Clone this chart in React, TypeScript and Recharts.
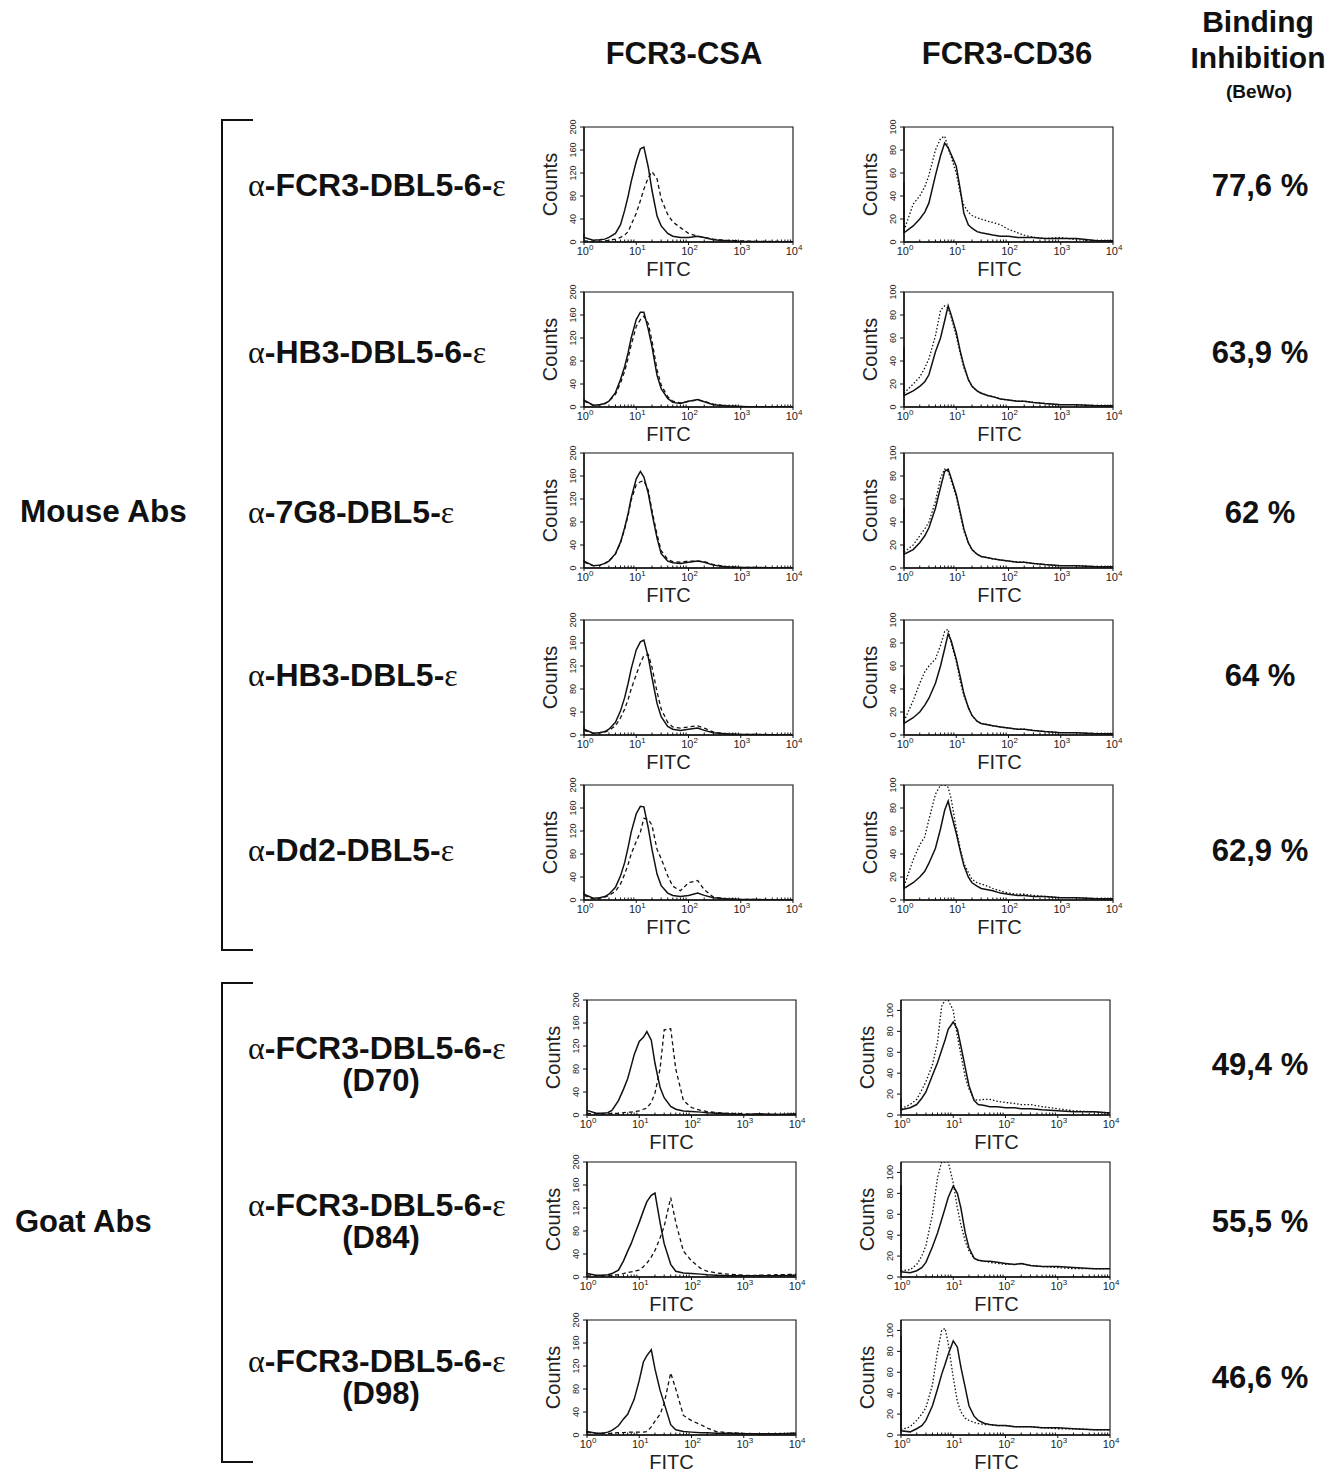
import { Label, Line, LineChart, ReferenceArea, XAxis, YAxis } from 'recharts'

// FITC channels (log scale) shared by every histogram
const X_BINS = [1, 1.5, 2, 2.5, 3, 4, 5, 6, 7, 8, 10, 12, 14, 17, 20, 25, 30, 40, 50, 70, 100, 150, 200, 300, 500, 1000, 2000, 5000, 10000]

const X_TICKS = [1, 2, 3, 4, 5, 6, 7, 8, 9, 10, 20, 30, 40, 50, 60, 70, 80, 90, 100, 200, 300, 400, 500, 600, 700, 800, 900, 1000, 2000, 3000, 4000, 5000, 6000, 7000, 8000, 9000, 10000]
const X_MAJOR = [1, 10, 100, 1000, 10000]
const CSA_TICKS = [0, 40, 80, 120, 160, 200]
const CD36_TICKS = [0, 20, 40, 60, 80, 100]

const HEADERS = ['FCR3-CSA', 'FCR3-CD36']
const GROUPS = ['Mouse Abs', 'Goat Abs']

// ---- FCR3-CSA histograms (counts, 0-200) ----
const CSA1_SOLID = [8, 3, 4, 5, 8, 15, 30, 55, 80, 105, 140, 162, 165, 130, 90, 45, 28, 15, 10, 8, 8, 10, 8, 4, 2, 1, 1, 0, 0]
const CSA1_DASHED = [2, 1, 1, 2, 3, 5, 8, 12, 18, 30, 50, 72, 92, 112, 122, 110, 75, 48, 35, 25, 15, 10, 8, 5, 3, 2, 1, 1, 0]
const CSA2_SOLID = [12, 3, 4, 6, 10, 25, 48, 70, 95, 120, 152, 165, 165, 135, 105, 55, 32, 15, 8, 6, 10, 13, 9, 4, 2, 1, 0, 0, 0]
const CSA2_DASHED = [10, 3, 4, 6, 10, 22, 42, 62, 85, 108, 140, 152, 158, 145, 115, 65, 38, 18, 10, 7, 10, 12, 10, 5, 2, 1, 0, 0, 0]
const CSA3_SOLID = [12, 4, 5, 8, 12, 25, 45, 70, 95, 122, 155, 168, 158, 130, 95, 52, 25, 12, 9, 8, 10, 12, 10, 5, 2, 1, 1, 0, 0]
const CSA3_DASHED = [10, 4, 5, 8, 12, 24, 44, 68, 92, 118, 145, 150, 152, 135, 100, 58, 30, 15, 11, 10, 12, 12, 11, 6, 3, 1, 1, 0, 0]
const CSA4_SOLID = [10, 3, 4, 6, 10, 22, 42, 65, 90, 115, 148, 162, 165, 135, 100, 55, 32, 15, 10, 8, 10, 12, 8, 4, 2, 1, 1, 0, 0]
const CSA4_DASHED = [8, 3, 4, 5, 8, 16, 30, 45, 62, 80, 105, 125, 138, 140, 118, 75, 45, 22, 14, 12, 14, 16, 12, 5, 2, 1, 1, 0, 0]
const CSA5_SOLID = [10, 3, 4, 6, 10, 22, 42, 65, 92, 118, 150, 163, 162, 125, 88, 45, 25, 12, 8, 6, 8, 12, 8, 4, 2, 1, 1, 0, 0]
const CSA5_DASHED = [8, 2, 3, 5, 8, 15, 28, 45, 62, 80, 102, 118, 142, 140, 130, 88, 72, 42, 24, 16, 30, 34, 18, 5, 2, 1, 1, 0, 0]
const CSA6_SOLID = [8, 3, 3, 4, 8, 25, 45, 63, 85, 105, 128, 135, 145, 130, 90, 48, 30, 15, 10, 7, 6, 5, 4, 3, 2, 1, 2, 1, 2]
const CSA6_DASHED = [3, 2, 2, 2, 3, 3, 4, 5, 5, 6, 7, 10, 12, 22, 38, 80, 148, 150, 80, 25, 13, 8, 6, 4, 3, 2, 1, 1, 1]
const CSA7_SOLID = [6, 3, 3, 4, 6, 12, 28, 45, 58, 72, 95, 115, 131, 142, 146, 95, 58, 22, 10, 7, 6, 5, 4, 3, 2, 2, 2, 2, 3]
const CSA7_DASHED = [2, 2, 2, 2, 3, 4, 6, 8, 9, 10, 12, 18, 24, 35, 46, 68, 88, 138, 95, 45, 28, 15, 10, 7, 5, 3, 3, 4, 5]
const CSA8_SOLID = [6, 3, 3, 5, 8, 16, 28, 36, 50, 62, 95, 127, 138, 148, 115, 78, 55, 18, 9, 6, 5, 4, 4, 3, 3, 2, 2, 2, 3]
const CSA8_DASHED = [4, 3, 3, 3, 3, 4, 4, 5, 5, 5, 5, 5, 6, 14, 24, 36, 55, 108, 80, 34, 25, 18, 12, 6, 4, 3, 2, 2, 3]

// ---- FCR3-CD36 histograms (counts, 0-100) ----
const CD1_SOLID = [8, 14, 20, 26, 34, 58, 75, 86, 82, 76, 66, 45, 25, 15, 12, 9, 8, 7, 6, 5, 5, 4, 4, 4, 3, 3, 3, 1, 1]
const CD1_DOTTED = [10, 33, 40, 48, 58, 80, 90, 92, 82, 74, 60, 42, 32, 26, 23, 21, 20, 18, 17, 15, 11, 8, 6, 4, 3, 4, 2, 1, 1]
const CD2_SOLID = [10, 14, 18, 22, 28, 48, 60, 75, 88, 80, 65, 48, 36, 24, 18, 14, 12, 10, 9, 7, 6, 5, 5, 4, 3, 2, 2, 1, 1]
const CD2_DOTTED = [12, 20, 26, 34, 42, 62, 84, 88, 86, 78, 62, 46, 34, 24, 18, 14, 12, 10, 9, 7, 6, 5, 5, 4, 3, 2, 2, 1, 1]
const CD3_SOLID = [12, 16, 22, 28, 35, 52, 70, 84, 86, 78, 64, 48, 34, 22, 16, 12, 10, 9, 8, 7, 6, 5, 5, 4, 3, 2, 2, 1, 1]
const CD3_DOTTED = [14, 20, 28, 34, 40, 58, 78, 86, 84, 76, 62, 46, 32, 22, 16, 12, 10, 9, 8, 7, 6, 5, 5, 4, 3, 2, 2, 1, 1]
const CD4_SOLID = [10, 15, 20, 26, 32, 45, 60, 75, 88, 82, 66, 50, 36, 24, 17, 12, 10, 9, 8, 7, 6, 5, 5, 4, 3, 2, 2, 1, 1]
const CD4_DOTTED = [12, 30, 45, 55, 60, 66, 78, 90, 92, 80, 64, 46, 34, 24, 17, 12, 10, 9, 8, 7, 6, 5, 5, 4, 3, 2, 2, 1, 1]
const CD5_SOLID = [10, 15, 20, 25, 32, 45, 62, 78, 86, 75, 58, 42, 30, 20, 15, 12, 10, 9, 8, 6, 5, 4, 4, 3, 3, 2, 2, 1, 1]
const CD5_DOTTED = [12, 35, 48, 55, 70, 92, 100, 100, 98, 88, 62, 44, 32, 24, 18, 15, 14, 12, 10, 8, 6, 5, 5, 4, 3, 2, 2, 1, 1]
const CD6_SOLID = [5, 7, 10, 16, 22, 38, 50, 62, 72, 82, 89, 82, 66, 45, 28, 14, 10, 9, 8, 8, 7, 7, 6, 6, 5, 4, 3, 3, 2]
const CD6_DOTTED = [6, 10, 15, 24, 32, 48, 70, 104, 110, 110, 100, 75, 58, 36, 25, 15, 14, 15, 15, 13, 12, 11, 10, 10, 8, 6, 4, 3, 2]
const CD7_SOLID = [5, 4, 6, 9, 14, 29, 42, 55, 66, 76, 87, 80, 66, 42, 28, 18, 16, 15, 15, 14, 13, 12, 13, 11, 10, 10, 9, 8, 8]
const CD7_DOTTED = [6, 7, 12, 20, 30, 60, 95, 110, 110, 110, 90, 66, 50, 34, 25, 18, 16, 15, 14, 13, 12, 12, 13, 11, 10, 9, 8, 8, 8]
const CD8_SOLID = [4, 3, 6, 9, 14, 28, 44, 58, 68, 77, 90, 84, 65, 45, 28, 18, 14, 11, 10, 9, 9, 8, 8, 8, 7, 7, 6, 5, 5]
const CD8_DOTTED = [5, 8, 14, 20, 26, 48, 80, 100, 102, 88, 55, 32, 22, 16, 14, 12, 11, 10, 10, 9, 9, 8, 8, 8, 7, 6, 6, 5, 5]

// first-channel pile-up at FITC = 10^0
const CSA_EDGE = [14, 14, 14, 14, 14, 8, 8, 8]
const CD36_EDGE = [52, 52, 52, 52, 52, 16, 88, 95]

const ROW_LABELS = ['FCR3-DBL5-6-', 'HB3-DBL5-6-', '7G8-DBL5-', 'HB3-DBL5-', 'Dd2-DBL5-', 'FCR3-DBL5-6-', 'FCR3-DBL5-6-', 'FCR3-DBL5-6-']
const ROW_SUBS = ['', '', '', '', '', '(D70)', '(D84)', '(D98)']
const INHIBITION = ['77,6 %', '63,9 %', '62 %', '64 %', '62,9 %', '49,4 %', '55,5 %', '46,6 %']

const CSA_SERIES = [
    [CSA1_SOLID, CSA1_DASHED], [CSA2_SOLID, CSA2_DASHED], [CSA3_SOLID, CSA3_DASHED], [CSA4_SOLID, CSA4_DASHED],
    [CSA5_SOLID, CSA5_DASHED], [CSA6_SOLID, CSA6_DASHED], [CSA7_SOLID, CSA7_DASHED], [CSA8_SOLID, CSA8_DASHED]
]
const CD36_SERIES = [
    [CD1_SOLID, CD1_DOTTED], [CD2_SOLID, CD2_DOTTED], [CD3_SOLID, CD3_DOTTED], [CD4_SOLID, CD4_DOTTED],
    [CD5_SOLID, CD5_DOTTED], [CD6_SOLID, CD6_DOTTED], [CD7_SOLID, CD7_DOTTED], [CD8_SOLID, CD8_DOTTED]
]

// layout
const PLOT_TOPS = [127, 292, 453, 620, 785, 1000, 1162, 1320]
const ROW_Y = [185, 352, 512, 675, 850, 1064, 1221, 1377]
const PLOT_W = 209
const PLOT_H = 115
const Y_AXIS_W = 55
const X_AXIS_H = 40
const M_TOP = 12
const M_RIGHT = 16

const SANS = '"Liberation Sans", Arial, Helvetica, sans-serif'
const SERIF = '"Liberation Serif", "Times New Roman", serif'
const INK = '#111'

type Point = { x: number; solid: number | null; dashed: number | null }

function buildData(edge: number, solid: number[], dashed: number[]): Point[] {
    const rows: Point[] = [{ x: 1, solid: edge, dashed: null }]
    X_BINS.forEach((x, i) => rows.push({ x, solid: solid[i], dashed: dashed[i] }))
    return rows
}

function XTick(props: any) {
    const { x, y, payload } = props
    const v = payload.value
    if (!X_MAJOR.includes(v)) {
        return <line x1={x} x2={x} y1={y} y2={y - 2.5} stroke={INK} strokeWidth={1} />
    }
    const exp = Math.round(Math.log10(v))
    return (
        <g>
            <line x1={x} x2={x} y1={y} y2={y + 3} stroke={INK} strokeWidth={1} />
            <text x={x + 1} y={y + 13} textAnchor="middle" fontSize={11} fontFamily={SANS} fill="#222">
                10
                <tspan dy={-5} fontSize={8}>{exp}</tspan>
            </text>
        </g>
    )
}

function YTick(props: any) {
    const { x, y, payload } = props
    return (
        <g>
            <line x1={x - 4} x2={x} y1={y} y2={y} stroke={INK} strokeWidth={1} />
            <text
                transform={`translate(${x - 8},${y}) rotate(-90)`}
                textAnchor="middle"
                fontSize={9}
                fontFamily={SANS}
                fill="#222"
            >
                {payload.value}
            </text>
        </g>
    )
}

type HistProps = {
    left: number
    top: number
    data: Point[]
    yMax: number
    yTicks: number[]
    dash: string
    fitcDx: number
}

function Histogram({ left, top, data, yMax, yTicks, dash, fitcDx }: HistProps) {
    return (
        <div style={{ position: 'absolute', left: left - Y_AXIS_W, top: top - M_TOP }}>
            <LineChart
                width={Y_AXIS_W + PLOT_W + M_RIGHT}
                height={M_TOP + PLOT_H + X_AXIS_H}
                data={data}
                margin={{ top: M_TOP, right: M_RIGHT, bottom: 0, left: 0 }}
            >
                <XAxis
                    dataKey="x"
                    type="number"
                    scale="log"
                    domain={[1, 10000]}
                    ticks={X_TICKS}
                    interval={0}
                    tick={<XTick />}
                    tickLine={false}
                    tickSize={0}
                    tickMargin={0}
                    height={X_AXIS_H}
                    axisLine={{ stroke: INK, strokeWidth: 1.4 }}
                >
                    <Label value="FITC" position="center" dx={fitcDx} dy={7} style={{ fontSize: 20, fontFamily: SANS, fill: '#222' }} />
                </XAxis>
                <YAxis
                    type="number"
                    domain={[0, yMax]}
                    allowDataOverflow
                    ticks={yTicks}
                    interval={0}
                    tick={<YTick />}
                    tickLine={false}
                    tickSize={0}
                    tickMargin={0}
                    width={Y_AXIS_W}
                    axisLine={{ stroke: INK, strokeWidth: 1.4 }}
                >
                    <Label value="Counts" angle={-90} position="center" dx={-7} style={{ fontSize: 20, fontFamily: SANS, fill: '#222' }} />
                </YAxis>
                <ReferenceArea x1={1} x2={10000} y1={0} y2={yMax} fill="none" stroke={INK} strokeWidth={1.1} />
                <Line dataKey="dashed" type="linear" stroke={INK} strokeWidth={1.3} strokeDasharray={dash} dot={false} isAnimationActive={false} />
                <Line dataKey="solid" type="linear" stroke={INK} strokeWidth={1.5} dot={false} isAnimationActive={false} />
            </LineChart>
        </div>
    )
}

function Txt({ x, y, size, children, anchor = 'center' }: { x: number; y: number; size: number; children: any; anchor?: 'center' | 'left' }) {
    return (
        <div
            style={{
                position: 'absolute',
                left: x,
                top: y,
                transform: anchor === 'center' ? 'translate(-50%, -50%)' : 'translate(0, -50%)',
                fontFamily: SANS,
                fontWeight: 'bold',
                fontSize: size,
                lineHeight: 1,
                whiteSpace: 'nowrap',
                color: '#111'
            }}
        >
            {children}
        </div>
    )
}

function Greek({ ch }: { ch: string }) {
    return <span style={{ fontFamily: SERIF, fontWeight: 'normal' }}>{ch}</span>
}

function Bracket({ top, bottom }: { top: number; bottom: number }) {
    return (
        <div
            style={{
                position: 'absolute',
                left: 221,
                top,
                width: 32,
                height: bottom - top,
                borderLeft: '2.5px solid #111',
                borderTop: '2.5px solid #111',
                borderBottom: '2.5px solid #111',
                boxSizing: 'border-box'
            }}
        />
    )
}

export default function App() {
    return (
        <div style={{ position: 'absolute', left: 0, top: 0, width: 1342, height: 1473, background: '#fff', overflow: 'hidden' }}>
            <Txt x={684} y={53} size={31}>{HEADERS[0]}</Txt>
            <Txt x={1007} y={53} size={31}>{HEADERS[1]}</Txt>
            <Txt x={1258} y={22} size={30}>Binding</Txt>
            <Txt x={1258} y={58} size={30}>Inhibition</Txt>
            <Txt x={1259} y={91} size={19}>(BeWo)</Txt>

            <Bracket top={119} bottom={951} />
            <Bracket top={982} bottom={1463} />
            <Txt x={20} y={512} size={31.5} anchor="left">{GROUPS[0]}</Txt>
            <Txt x={15} y={1221} size={31} anchor="left">{GROUPS[1]}</Txt>

            {ROW_LABELS.map((label, i) => {
                const goat = i >= 5
                return (
                    <div key={`row-${i}`}>
                        {goat ? (
                            <>
                                <Txt x={248} y={ROW_Y[i] - 16} size={32} anchor="left">
                                    <Greek ch="α" />-{label}<Greek ch="ε" />
                                </Txt>
                                <Txt x={381} y={ROW_Y[i] + 16} size={31}>{ROW_SUBS[i]}</Txt>
                            </>
                        ) : (
                            <Txt x={248} y={ROW_Y[i]} size={32} anchor="left">
                                <Greek ch="α" />-{label}<Greek ch="ε" />
                            </Txt>
                        )}
                        <Txt x={1260} y={ROW_Y[i]} size={31}>{INHIBITION[i]}</Txt>
                        <Histogram
                            left={goat ? 587 : 584}
                            top={PLOT_TOPS[i]}
                            data={buildData(CSA_EDGE[i], CSA_SERIES[i][0], CSA_SERIES[i][1])}
                            yMax={200}
                            yTicks={CSA_TICKS}
                            dash="4 3"
                            fitcDx={-20}
                        />
                        <Histogram
                            left={goat ? 901 : 904}
                            top={PLOT_TOPS[i]}
                            data={buildData(CD36_EDGE[i], CD36_SERIES[i][0], CD36_SERIES[i][1])}
                            yMax={goat ? 110 : 100}
                            yTicks={CD36_TICKS}
                            dash="1.5 2"
                            fitcDx={-9}
                        />
                    </div>
                )
            })}
        </div>
    )
}
